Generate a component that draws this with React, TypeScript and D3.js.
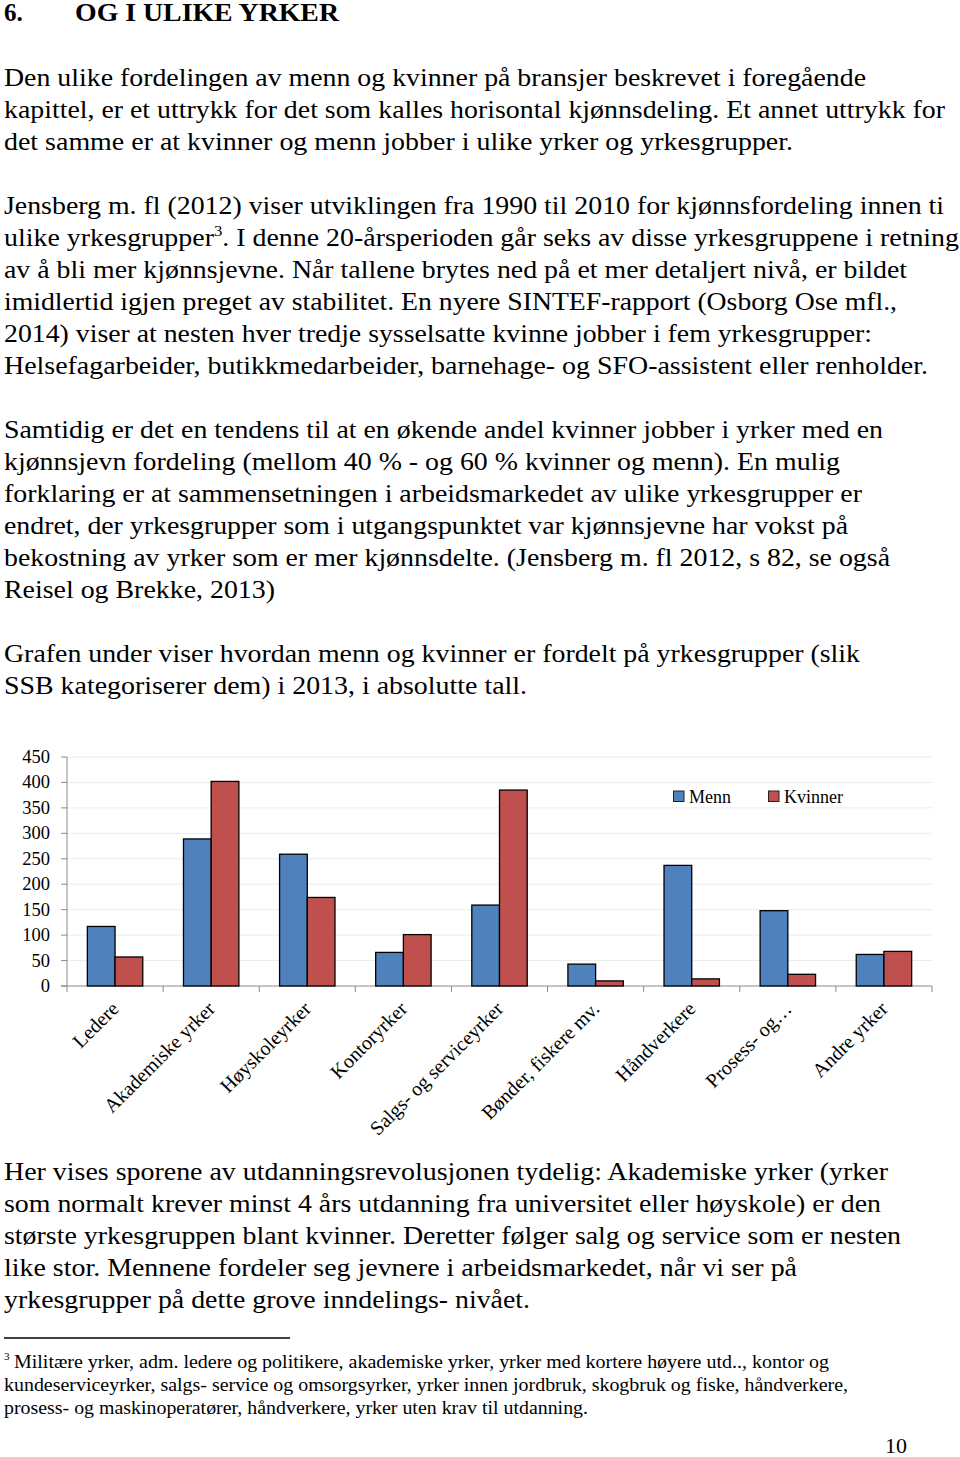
import React, { useEffect } from "react";
import * as d3 from "d3";

const categories = [
  "Ledere",
  "Akademiske yrker",
  "Høyskoleyrker",
  "Kontoryrker",
  "Salgs- og serviceyrker",
  "Bønder, fiskere mv.",
  "Håndverkere",
  "Prosess- og…",
  "Andre yrker",
];
const menn = [117, 289, 259, 66, 159, 43, 237, 148, 62];
const kvinner = [57, 402, 174, 101, 385, 10, 14, 23, 68];
const seriesNames = ["Menn", "Kvinner"];
const yTicks = [0, 50, 100, 150, 200, 250, 300, 350, 400, 450];

// body text lines: [text, endX]
const para1: [string, number][] = [
  ["Den ulike fordelingen av menn og kvinner på bransjer beskrevet i foregående", 866],
  ["kapittel, er et uttrykk for det som kalles horisontal kjønnsdeling. Et annet uttrykk for", 945],
  ["det samme er at kvinner og menn jobber i ulike yrker og yrkesgrupper.", 793],
];
const para2: [string, number][] = [
  ["Jensberg m. fl (2012) viser utviklingen fra 1990 til 2010 for kjønnsfordeling innen ti", 944],
  ["§", 959],
  ["av å bli mer kjønnsjevne. Når tallene brytes ned på et mer detaljert nivå, er bildet", 907],
  ["imidlertid igjen preget av stabilitet. En nyere SINTEF-rapport (Osborg Ose mfl.,", 897],
  ["2014) viser at nesten hver tredje sysselsatte kvinne jobber i fem yrkesgrupper:", 872],
  ["Helsefagarbeider, butikkmedarbeider, barnehage- og SFO-assistent eller renholder.", 928],
];
const para3: [string, number][] = [
  ["Samtidig er det en tendens til at en økende andel kvinner jobber i yrker med en", 883],
  ["kjønnsjevn fordeling (mellom 40 % - og 60 % kvinner og menn). En mulig", 840],
  ["forklaring er at sammensetningen i arbeidsmarkedet av ulike yrkesgrupper er", 862],
  ["endret, der yrkesgrupper som i utgangspunktet var kjønnsjevne har vokst på", 848],
  ["bekostning av yrker som er mer kjønnsdelte. (Jensberg m. fl 2012, s 82, se også", 890],
  ["Reisel og Brekke, 2013)", 275],
];
const para4: [string, number][] = [
  ["Grafen under viser hvordan menn og kvinner er fordelt på yrkesgrupper (slik", 860],
  ["SSB kategoriserer dem) i 2013, i absolutte tall.", 527],
];
const para5: [string, number][] = [
  ["Her vises sporene av utdanningsrevolusjonen tydelig: Akademiske yrker (yrker", 888],
  ["som normalt krever minst 4 års utdanning fra universitet eller høyskole) er den", 881],
  ["største yrkesgruppen blant kvinner. Deretter følger salg og service som er nesten", 901],
  ["like stor. Mennene fordeler seg jevnere i arbeidsmarkedet, når vi ser på", 797],
  ["yrkesgrupper på dette grove inndelings- nivået.", 530],
];
const footnote1: [string, number][] = [
  ["Militære yrker, adm. ledere og politikere, akademiske yrker, yrker med kortere høyere utd.., kontor og", 829],
];
const footnoteRest: [string, number][] = [
  ["kundeserviceyrker, salgs- service og omsorgsyrker, yrker innen jordbruk, skogbruk og fiske, håndverkere,", 848],
  ["prosess- og maskinoperatører, håndverkere, yrker uten krav til utdanning.", 588],
];

const FONT = "'Liberation Serif', 'Times New Roman', serif";
const BLUE = "#4F81BD";
const RED = "#C0504D";

function Para({ lines, y0, step = 32, size = 25, x0 = 4 }: { lines: [string, number][]; y0: number; step?: number; size?: number; x0?: number }) {
  return (
    <g>
      {lines.map(([t, end], i) =>
        t === "§" ? (
          <text key={i} x={x0} y={y0 + i * step} fontSize={size} textLength={end - x0} lengthAdjust="spacingAndGlyphs">
            ulike yrkesgrupper
            <tspan fontSize={size * 0.6} dy={-10}>3</tspan>
            <tspan dy={10}>. I denne 20-årsperioden går seks av disse yrkesgruppene i retning</tspan>
          </text>
        ) : (
          <text key={i} x={x0} y={y0 + i * step} fontSize={size} textLength={end - x0} lengthAdjust="spacingAndGlyphs">
            {t}
          </text>
        )
      )}
    </g>
  );
}

export default function App() {
  useEffect(() => {
    document.body.style.margin = "0";
  }, []);

  const left = 67;
  const right = 932;
  const y0 = 986;
  const yTop = 757;
  const x = d3.scaleBand<string>().domain(categories).range([left, right]).paddingInner(0.4235).paddingOuter(0.21175);
  const xs = d3.scaleBand<string>().domain(seriesNames).range([0, x.bandwidth()]);
  const y = d3.scaleLinear().domain([0, 450]).range([y0, yTop]);
  const step = x.step();
  const bounds = d3.range(categories.length + 1).map((i) => left + i * step);

  return (
    <svg width={960} height={1457} style={{ display: "block", background: "#fff" }} fontFamily={FONT} fill="#000">
      {/* heading */}
      <text x={4} y={21} fontSize={25} fontWeight="bold">6.</text>
      <text x={75} y={21} fontSize={25} fontWeight="bold" textLength={264} lengthAdjust="spacingAndGlyphs">OG I ULIKE YRKER</text>

      <Para lines={para1} y0={86} />
      <Para lines={para2} y0={214} />
      <Para lines={para3} y0={438} />
      <Para lines={para4} y0={662} />

      {/* chart */}
      <g>
        {yTicks.map((t) => (
          <g key={t}>
            {t > 0 && <line x1={left} x2={right} y1={y(t)} y2={y(t)} stroke="#ececec" strokeWidth={1} />}
            <line x1={left - 6} x2={left} y1={y(t)} y2={y(t)} stroke="#8a8a8a" strokeWidth={1} />
            <text x={50} y={y(t) + 6} fontSize={18.5} textAnchor="end">{t}</text>
          </g>
        ))}
        <line x1={left} x2={left} y1={yTop} y2={y0} stroke="#8a8a8a" strokeWidth={1} />
        <line x1={left - 6} x2={right} y1={y0} y2={y0} stroke="#8a8a8a" strokeWidth={1} />
        {bounds.map((b, i) => (
          <line key={i} x1={b} x2={b} y1={y0} y2={y0 + 6} stroke="#8a8a8a" strokeWidth={1} />
        ))}
        {categories.map((c, i) => (
          <g key={c}>
            <rect x={(x(c) as number) + (xs("Menn") as number)} y={y(menn[i])} width={xs.bandwidth()} height={y0 - y(menn[i])} fill={BLUE} stroke="#000" strokeWidth={1.3} />
            <rect x={(x(c) as number) + (xs("Kvinner") as number)} y={y(kvinner[i])} width={xs.bandwidth()} height={y0 - y(kvinner[i])} fill={RED} stroke="#000" strokeWidth={1.3} />
            <text
              transform={`translate(${(x(c) as number) + x.bandwidth() / 2 + 5},${y0 + 24}) rotate(-45)`}
              fontSize={20}
              textAnchor="end"
            >
              {c}
            </text>
          </g>
        ))}
        {/* legend */}
        <rect x={673.5} y={791} width={10.5} height={10.5} fill={BLUE} stroke="#222" strokeWidth={1} />
        <text x={689} y={803} fontSize={18}>{seriesNames[0]}</text>
        <rect x={768.5} y={791} width={10.5} height={10.5} fill={RED} stroke="#222" strokeWidth={1} />
        <text x={784} y={803} fontSize={18}>{seriesNames[1]}</text>
      </g>

      <Para lines={para5} y0={1180} />

      {/* footnote */}
      <line x1={4} x2={290} y1={1338} y2={1338} stroke="#000" strokeWidth={1.5} />
      <text x={4} y={1360} fontSize={11}>3</text>
      <Para lines={footnote1} y0={1368} size={18} x0={14} />
      <Para lines={footnoteRest} y0={1391} step={23} size={18} x0={4} />
      <text x={907} y={1453} fontSize={22} textAnchor="end">10</text>
    </svg>
  );
}
